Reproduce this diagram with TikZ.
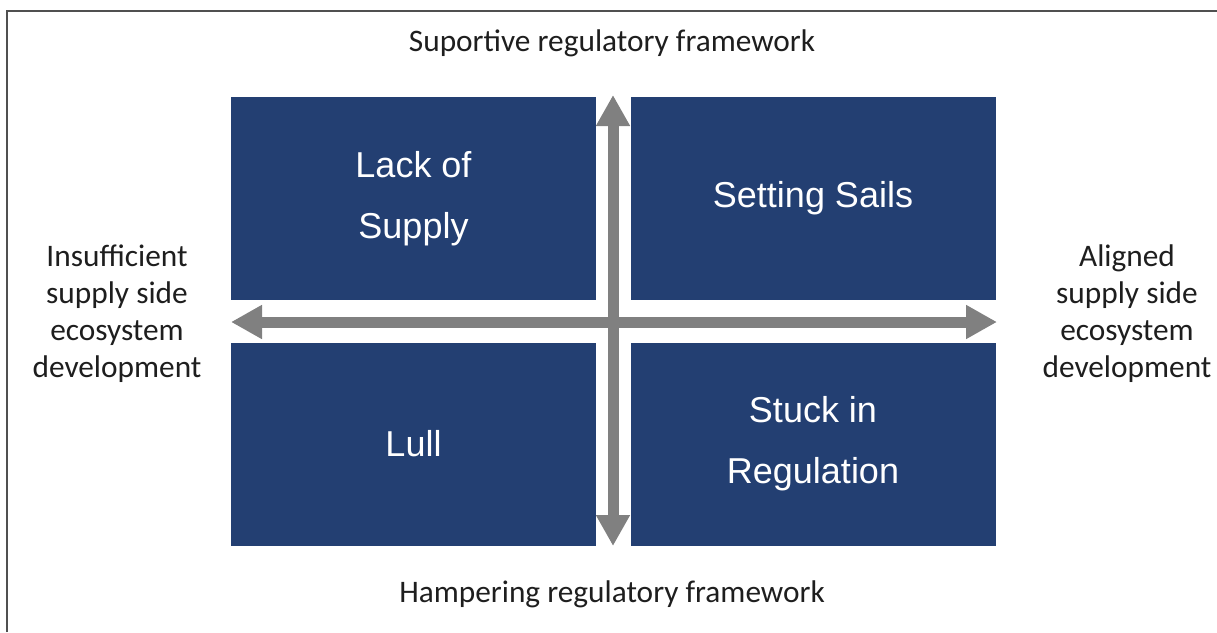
\documentclass[tikz,border=0pt]{standalone}
\usepackage{fontspec}
\setmainfont{Carlito}
\newfontfamily\boxfont{Liberation Sans}
\usetikzlibrary{arrows.meta}
\definecolor{boxblue}{RGB}{35,63,114}
\definecolor{arrowgray}{RGB}{128,128,128}
\definecolor{framegray}{RGB}{80,80,80}
\definecolor{labeltext}{RGB}{30,30,30}
\tikzset{
  quad/.style={fill=boxblue, draw=none, minimum width=273.75pt, minimum height=152.25pt,
    inner sep=0pt, text=white, align=center,
    font=\boxfont\fontsize{27pt}{45.75pt}\selectfont},
  axislabel/.style={text=labeltext, align=center, inner sep=0pt,
    font=\fontsize{23.5pt}{27.75pt}\selectfont},
  axisarrow/.style={draw=arrowgray, line width=8.25pt,
    {Triangle[width=24pt,length=23.25pt]}-{Triangle[width=24pt,length=23.25pt]}},
}
\begin{document}
\begin{tikzpicture}[x=0.75pt,y=-0.75pt]
\useasboundingbox (0,0) rectangle (1217,632);
% frame (top and left edges)
\draw[framegray, line width=1.8pt] (7,632) -- (7,11) -- (1217,11);
% quadrants
\node[quad] (tl) at (413.5,198.5) {Lack of\\Supply};
\node[quad] (tr) at (813,198.5) {Setting Sails};
\node[quad] (bl) at (413.5,444) {Lull};
\node[quad] (br) at (813,444) {Stuck in\\Regulation};
% axis end points
\coordinate (vtop) at (613,95);
\coordinate (vbot) at (613,546);
\coordinate (hleft) at (231,322);
\coordinate (hright) at (997,322);
\draw[axisarrow] (vbot) -- (vtop);
\draw[axisarrow] (hleft) -- (hright);
% labels
\node[axislabel] (top) at (612,43) {Suportive regulatory framework};
\node[axislabel] (bottom) at (612,594) {Hampering regulatory framework};
\node[axislabel] (left) at (117,314) {Insufficient\\supply side\\ecosystem\\development};
\node[axislabel] (right) at (1127,314) {Aligned\\supply side\\ecosystem\\development};
\end{tikzpicture}
\end{document}
